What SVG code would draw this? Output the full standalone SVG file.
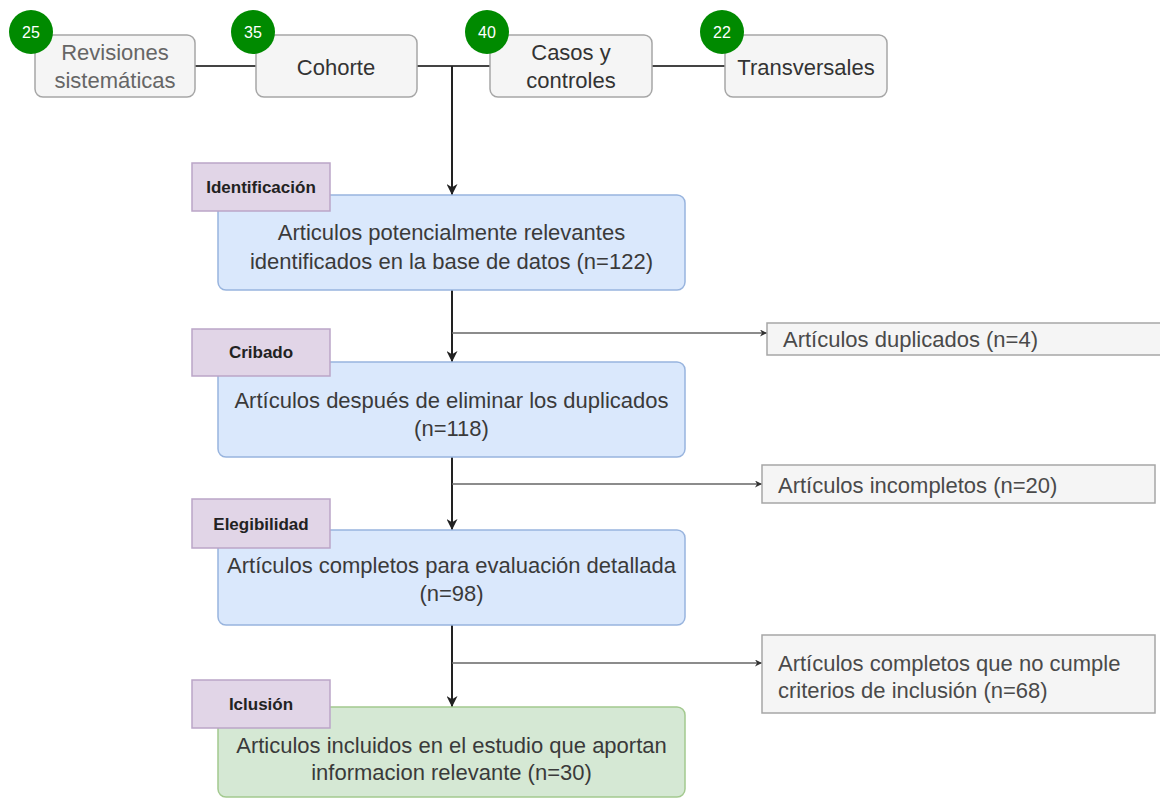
<svg xmlns="http://www.w3.org/2000/svg" width="1160" height="798" viewBox="0 0 1160 798">
<style>
text{font-family:"Liberation Sans",Arial,sans-serif;dominant-baseline:central;text-anchor:middle}
.top{fill:#f5f5f5;stroke:#a6a6a6;stroke-width:1.5}
.tt{font-size:22px;fill:#333}
.badge{fill:#008a00}
.bt{font-size:16px;fill:#fff}
.blue{fill:#dae8fc;stroke:#98b4de;stroke-width:1.5}
.green{fill:#d5e8d4;stroke:#a3c98f;stroke-width:1.5}
.lab{fill:#e1d5e7;stroke:#bba5c7;stroke-width:1.5}
.lt{font-size:17px;font-weight:bold;fill:#222}
.mt{font-size:22px;fill:#3a3a3a}
.gray{fill:#f5f5f5;stroke:#a6a6a6;stroke-width:1.5}
.gt{font-size:22px;fill:#4a4a4a;text-anchor:start}
.ln{fill:none;stroke:#444;stroke-width:2}
.main{fill:none;stroke:#222;stroke-width:2}
.side{fill:none;stroke:#666;stroke-width:1.4}
</style>
<defs>
<marker id="ah" viewBox="0 0 10 10" refX="10" refY="5" markerWidth="12" markerHeight="11" markerUnits="userSpaceOnUse" orient="auto">
<path d="M0,0 L10,5 L0,10 L3,5 Z" fill="#222"/>
</marker>
<marker id="sh" viewBox="0 0 10 10" refX="10" refY="5" markerWidth="7" markerHeight="7" markerUnits="userSpaceOnUse" orient="auto">
<path d="M0,0 L10,5 L0,10 L3,5 Z" fill="#333"/>
</marker>
</defs>
<rect width="1160" height="798" fill="#fff"/>
<g id="connectors">
<line class="ln" x1="195" y1="66" x2="256" y2="66"/>
<line class="ln" x1="417" y1="66" x2="490" y2="66"/>
<line class="ln" x1="652" y1="66" x2="725" y2="66"/>
<line class="main" x1="452" y1="66" x2="452" y2="195" marker-end="url(#ah)"/>
<line class="main" x1="452" y1="290" x2="452" y2="362" marker-end="url(#ah)"/>
<line class="main" x1="452" y1="457" x2="452" y2="530" marker-end="url(#ah)"/>
<line class="main" x1="452" y1="625" x2="452" y2="707" marker-end="url(#ah)"/>
<line class="side" x1="452" y1="333" x2="767" y2="333" marker-end="url(#sh)"/>
<line class="side" x1="452" y1="484" x2="762" y2="484" marker-end="url(#sh)"/>
<line class="side" x1="452" y1="663" x2="762" y2="663" marker-end="url(#sh)"/>
</g>
<g id="n-revisiones">
<rect class="top" x="35" y="35" width="160" height="62" rx="8"/>
<text class="tt" x="115" y="52" style="fill:#666">Revisiones</text>
<text class="tt" x="115" y="80" style="fill:#666">sistemáticas</text>
<circle class="badge" cx="31" cy="32" r="22"/>
<text class="bt" x="31" y="32">25</text>
</g>
<g id="n-cohorte">
<rect class="top" x="256" y="35" width="161" height="62" rx="8"/>
<text class="tt" x="336" y="67">Cohorte</text>
<circle class="badge" cx="253" cy="32" r="22"/>
<text class="bt" x="253" y="32">35</text>
</g>
<g id="n-casos">
<rect class="top" x="490" y="35" width="162" height="62" rx="8"/>
<text class="tt" x="571" y="52">Casos y</text>
<text class="tt" x="571" y="80">controles</text>
<circle class="badge" cx="487" cy="32" r="22"/>
<text class="bt" x="487" y="32">40</text>
</g>
<g id="n-transversales">
<rect class="top" x="725" y="35" width="162" height="62" rx="8"/>
<text class="tt" x="806" y="67">Transversales</text>
<circle class="badge" cx="722" cy="32" r="22"/>
<text class="bt" x="722" y="32">22</text>
</g>
<g id="n-identificados">
<rect class="blue" x="218" y="195" width="467" height="95" rx="8"/>
<text class="mt" x="451.5" y="232">Articulos potencialmente relevantes</text>
<text class="mt" x="451.5" y="261">identificados en la base de datos (n=122)</text>
</g>
<g id="l-identificacion">
<rect class="lab" x="192" y="163" width="138" height="48"/>
<text class="lt" x="261" y="187">Identificación</text>
</g>
<g id="n-duplicados">
<rect class="gray" x="767" y="323" width="395" height="32"/>
<text class="gt" x="783" y="339">Artículos duplicados (n=4)</text>
</g>
<g id="n-despues">
<rect class="blue" x="218" y="362" width="467" height="95" rx="8"/>
<text class="mt" x="451.5" y="400">Artículos después de eliminar los duplicados</text>
<text class="mt" x="451.5" y="428">(n=118)</text>
</g>
<g id="l-cribado">
<rect class="lab" x="192" y="329" width="138" height="47"/>
<text class="lt" x="261" y="352">Cribado</text>
</g>
<g id="n-incompletos">
<rect class="gray" x="762" y="465" width="393" height="38"/>
<text class="gt" x="778" y="485">Artículos incompletos (n=20)</text>
</g>
<g id="n-completos">
<rect class="blue" x="218" y="530" width="467" height="95" rx="8"/>
<text class="mt" x="451.5" y="565">Artículos completos para evaluación detallada</text>
<text class="mt" x="451.5" y="593">(n=98)</text>
</g>
<g id="l-elegibilidad">
<rect class="lab" x="192" y="499" width="138" height="49"/>
<text class="lt" x="261" y="524">Elegibilidad</text>
</g>
<g id="n-nocumple">
<rect class="gray" x="762" y="635" width="393" height="78"/>
<text class="gt" x="778" y="663">Artículos completos que no cumple</text>
<text class="gt" x="778" y="690">criterios de inclusión (n=68)</text>
</g>
<g id="n-incluidos">
<rect class="green" x="218" y="707" width="467" height="90" rx="8"/>
<text class="mt" x="451.5" y="745">Articulos incluidos en el estudio que aportan</text>
<text class="mt" x="451.5" y="772">informacion relevante (n=30)</text>
</g>
<g id="l-inclusion">
<rect class="lab" x="192" y="680" width="138" height="48"/>
<text class="lt" x="261" y="704">Iclusión</text>
</g>
</svg>
